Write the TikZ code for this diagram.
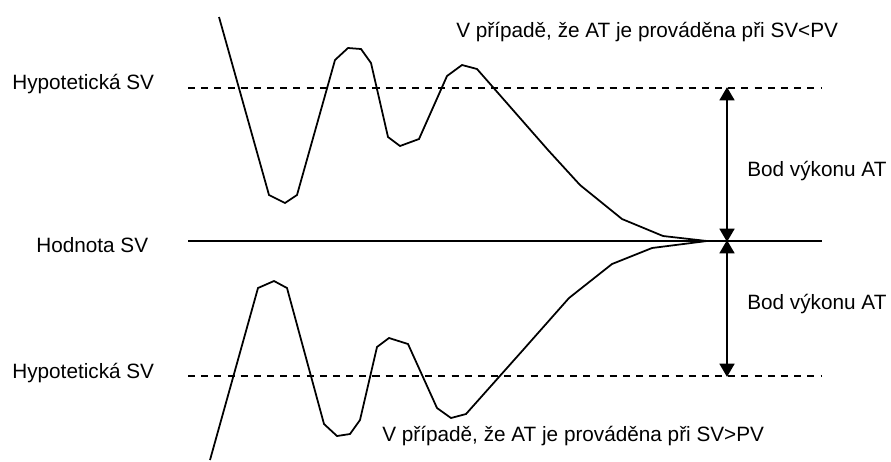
\documentclass[tikz,border=0pt]{standalone}
\usepackage{fontspec}
\setmainfont{Liberation Sans}
\usetikzlibrary{arrows.meta}
\definecolor{ink}{HTML}{000000}
\tikzset{
  lbl/.style={inner sep=0pt,anchor=base west,font=\fontsize{11.8}{14}\selectfont,text=ink},
  svline/.style={draw=ink,line width=1pt},
  hypo/.style={svline,dash pattern=on 4pt off 3.5pt},
  resp/.style={draw=ink,line width=1pt,line join=miter},
  ar/.style={{Triangle[length=7.5pt,width=8.5pt]}-{Triangle[length=7.5pt,width=8.5pt]},draw=ink,line width=1pt,shorten <=-0.5pt,shorten >=-0.5pt},
}

\begin{document}
\begin{tikzpicture}[x=0.02cm,y=-0.02cm]
\useasboundingbox (0,0) rectangle (891,461);
% reference lines
\coordinate (hu0) at (188,88);  \coordinate (hu1) at (822,88);
\coordinate (sv0) at (188,241); \coordinate (sv1) at (822,241);
\coordinate (hl0) at (188,376); \coordinate (hl1) at (822,376);
\coordinate (au) at (727,88); \coordinate (am) at (727,241); \coordinate (al) at (727,376);
\draw[hypo] (hu0) -- (hu1);
\draw[svline] (sv0) -- (sv1);
\draw[hypo] (hl0) -- (hl1);
% labels
\node[lbl] (hut) at (12,89) {Hypotetická SV};
\node[lbl] (svt) at (36,252) {Hodnota SV};
\node[lbl] (hlt) at (12,378) {Hypotetická SV};
\node[lbl] (bu) at (747,176) {Bod výkonu AT};
\node[lbl] (bl) at (747,309) {Bod výkonu AT};
\node[lbl] (tu) at (456,37) {V případě, že AT je prováděna při SV<PV};
\node[lbl] (tl) at (382,441) {V případě, že AT je prováděna při SV>PV};
% response, SV<PV
\draw[resp] (219,17) -- (269,195) -- (285,203) -- (297,195) -- (335,60) -- (348,48)
  -- (361,49) -- (371,63) -- (388,137) -- (400,146) -- (419,139) -- (447,76)
  -- (462,65) -- (477,69) -- (548,150) -- (580,185) -- (622,219) -- (663,236) -- (707,241);
% response, SV>PV
\draw[resp] (210,460) -- (258,288) -- (274,281) -- (287,288) -- (324,424) -- (337,436)
  -- (350,434) -- (360,420) -- (377,347) -- (389,338) -- (408,344) -- (437,408)
  -- (451,418) -- (466,414) -- (523,350) -- (569,298) -- (612,264) -- (652,248) -- (707,241);
% AT points
\draw[ar] (au) -- (am);
\draw[ar] (am) -- (al);
\end{tikzpicture}
\end{document}
